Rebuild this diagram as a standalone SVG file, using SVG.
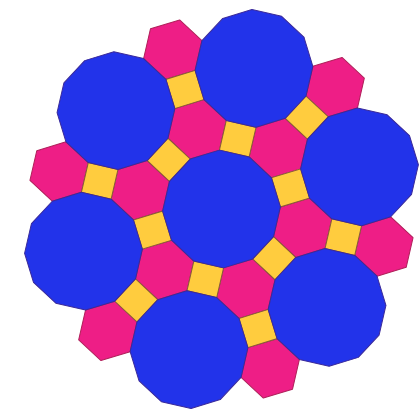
<svg xmlns="http://www.w3.org/2000/svg" width="419" height="414" viewBox="0 0 419 414">
<style>
.d{fill:#2233EA;stroke:#3a2a9a;stroke-width:1;stroke-linejoin:round}
.h{fill:#EE1E86;stroke:#b0205a;stroke-width:1;stroke-linejoin:round}
.s{fill:#FFCC3E;stroke:#8a5a3a;stroke-width:1;stroke-linejoin:round}
</style>
<defs>
<polygon id="dod" points="56.91,15.25 41.66,41.66 15.25,56.91 -15.25,56.91 -41.66,41.66 -56.91,15.25 -56.91,-15.25 -41.66,-41.66 -15.25,-56.91 15.25,-56.91 41.66,-41.66 56.91,-15.25"/>
<polygon id="hex" points="30.5,0 15.25,26.41 -15.25,26.41 -30.5,0 -15.25,-26.41 15.25,-26.41"/>
<rect id="sq" x="-15.25" y="-15.25" width="30.5" height="30.5"/>
</defs>
<rect width="419" height="414" fill="#ffffff"/>
<g transform="translate(221.5,209) rotate(-17)">
<g id="hexagons">
<use href="#hex" class="h" x="72.17" y="41.66"/>
<use href="#hex" class="h" x="0" y="83.33"/>
<use href="#hex" class="h" x="-72.17" y="41.66"/>
<use href="#hex" class="h" x="-72.17" y="-41.66"/>
<use href="#hex" class="h" x="0" y="-83.33"/>
<use href="#hex" class="h" x="72.17" y="-41.66"/>
<use href="#hex" class="h" x="144.33" y="83.33"/>
<use href="#hex" class="h" x="0" y="166.65"/>
<use href="#hex" class="h" x="-144.33" y="83.33"/>
<use href="#hex" class="h" x="-144.33" y="-83.33"/>
<use href="#hex" class="h" x="0" y="-166.65"/>
<use href="#hex" class="h" x="144.33" y="-83.33"/>
</g>
<g id="squares">
<use href="#sq" class="s" transform="translate(72.17,0)"/>
<use href="#sq" class="s" transform="translate(36.08,62.5) rotate(60)"/>
<use href="#sq" class="s" transform="translate(-36.08,62.5) rotate(120)"/>
<use href="#sq" class="s" transform="translate(-72.17,0)"/>
<use href="#sq" class="s" transform="translate(-36.08,-62.5) rotate(60)"/>
<use href="#sq" class="s" transform="translate(36.08,-62.5) rotate(120)"/>
<use href="#sq" class="s" transform="translate(108.25,62.5) rotate(120)"/>
<use href="#sq" class="s" transform="translate(0,124.99)"/>
<use href="#sq" class="s" transform="translate(-108.25,62.5) rotate(60)"/>
<use href="#sq" class="s" transform="translate(-108.25,-62.5) rotate(120)"/>
<use href="#sq" class="s" transform="translate(0,-124.99)"/>
<use href="#sq" class="s" transform="translate(108.25,-62.5) rotate(60)"/>
</g>
<g id="dodecagons">
<use id="center" href="#dod" class="d" x="0" y="0"/>
<use href="#dod" class="d" x="144.33" y="0"/>
<use href="#dod" class="d" x="72.17" y="124.99"/>
<use href="#dod" class="d" x="-72.17" y="124.99"/>
<use href="#dod" class="d" x="-144.33" y="0"/>
<use href="#dod" class="d" x="-72.17" y="-124.99"/>
<use href="#dod" class="d" x="72.17" y="-124.99"/>
</g>
</g>
</svg>
